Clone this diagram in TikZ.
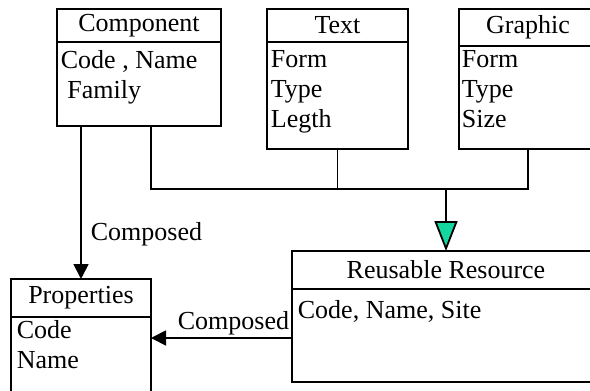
\documentclass[tikz,border=0pt]{standalone}
\usepackage{fontspec}
\setmainfont{Liberation Serif}
\usetikzlibrary{arrows.meta}
\definecolor{gencolor}{RGB}{20,215,160}
\begin{document}
\begin{tikzpicture}[x=1pt, y=-1pt, line width=1.8pt,
    font=\fontsize{26}{30}\selectfont,
    head/.style = {draw, anchor=north west, inner sep=0pt, outer sep=0pt},
    body/.style = {draw, anchor=north west, inner sep=0pt, outer sep=0pt},
    txt/.style = {anchor=north west, align=left, inner xsep=3pt, inner ysep=7pt},
    arr/.style = {-{Triangle[length=15pt, width=15pt]}}]
    \useasboundingbox (0,0) rectangle (590,391);
    \clip (0,0) rectangle (590,391);

    % le classi
    \node[head, minimum width=164pt, minimum height=33pt] (comp) at (57,9) {Component};
    \node[body, minimum width=164pt, minimum height=84pt] (compbody) at (comp.south west) {};
    \node[txt, inner ysep=7.5pt] (comptxt) at (compbody.north west) {Code , Name\\ \ Family};

    \node[head, minimum width=141pt, minimum height=33pt] (text) at (267,9) {Text};
    \node[body, minimum width=141pt, minimum height=107pt] (textbody) at (text.south west) {};
    \node[txt, inner ysep=7.5pt] (texttxt) at (textbody.north west) {Form\\Type\\Legth};

    \node[head, minimum width=138pt, minimum height=37pt] (graph) at (459,9) {Graphic};
    \node[body, minimum width=138pt, minimum height=103pt] (graphbody) at (graph.south west) {};
    \node[txt, inner xsep=2pt, inner ysep=3.5pt] (graphtxt) at (graphbody.north west) {Form\\Type\\Size};

    \node[head, minimum width=140pt, minimum height=38pt] (props) at (11,279) {Properties};
    \node[body, minimum width=140pt, minimum height=95pt] (propsbody) at (props.south west) {};
    \node[txt, inner xsep=5pt, inner ysep=2.5pt] (propstxt) at (propsbody.north west) {Code\\Name};

    \node[head, minimum width=308pt, minimum height=38pt] (reuse) at (292,251) {Reusable Resource};
    \node[body, minimum width=308pt, minimum height=93pt] (reusebody) at (reuse.south west) {};
    \node[txt, inner xsep=5pt, inner ysep=10.5pt] (reusetxt) at (reusebody.north west) {Code, Name, Site};

    \coordinate (bus) at (reuse.north |- 0,189);

    \draw ([xshift=12pt]compbody.south) |- (graphbody.south |- bus) -- (graphbody.south);
    \draw (textbody.south) -- (textbody.south |- bus);
    \draw[-{Triangle[length=30pt, width=23pt, fill=gencolor]}] (bus) -- (reuse.north);

    \draw[arr] (props.north |- compbody.south) -- (props.north)
        node[pos=0.71, right, inner sep=9pt] (lab1) {Composed};
    \draw[arr] ([yshift=-2.5pt]reusebody.west) -- ([yshift=-2.5pt]reusebody.west -| propsbody.east)
        node[pos=0, above left, inner sep=2pt] (lab2) {Composed};
\end{tikzpicture}
\end{document}
